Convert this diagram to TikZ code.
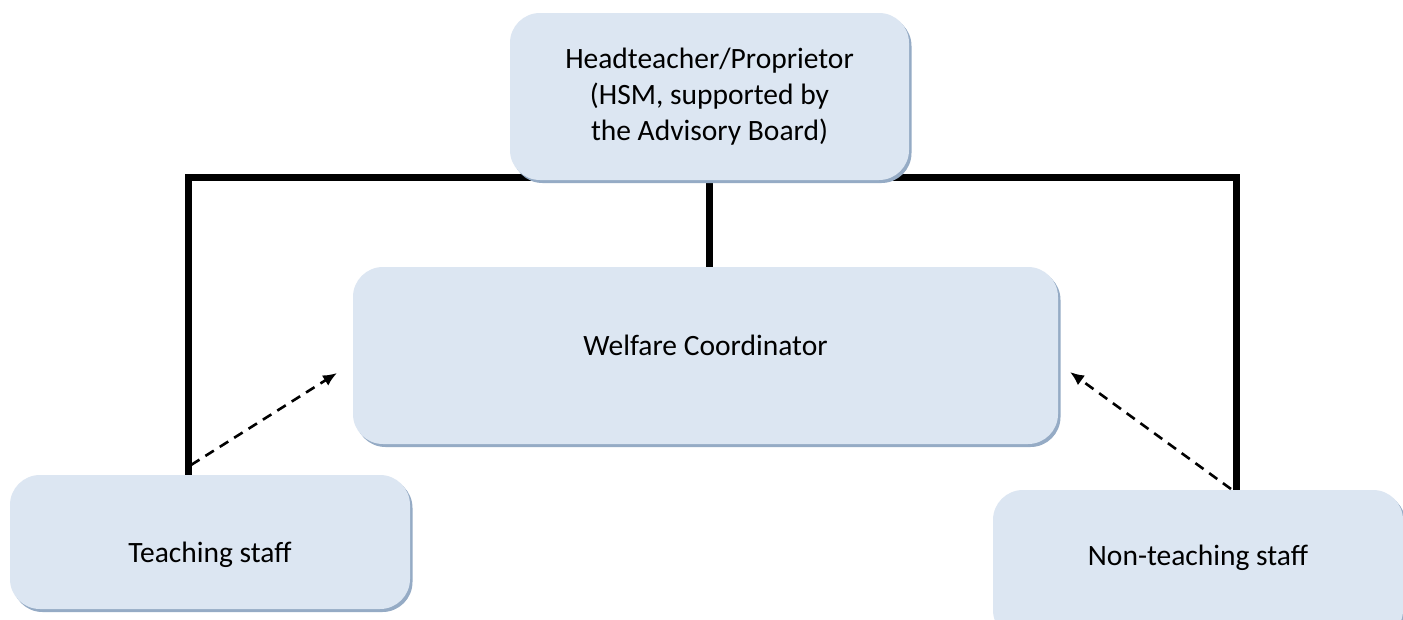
\documentclass[tikz,border=0pt]{standalone}
\usepackage{fontspec}
\setmainfont{Carlito}
\usetikzlibrary{shadows,backgrounds,arrows.meta}
\definecolor{boxfill}{HTML}{DCE6F2}
\definecolor{boxshadow}{HTML}{95ABC5}
\tikzset{
  orgbox/.style={rounded corners=30pt, fill=boxfill, inner sep=0pt, align=center,
    font=\fontsize{29.5}{36}\selectfont,
    drop shadow={shadow xshift=2.5pt, shadow yshift=-3pt, fill=boxshadow, opacity=1}},
  bar/.style={line width=7pt, black},
  dasharrow/.style={line width=2.6pt, dash pattern=on 10pt off 7pt, -{Latex[length=14pt,width=12pt]}}
}
\begin{document}
\begin{tikzpicture}[x=1pt,y=1pt]
\clip (0,0) rectangle (1403,-619);
\node[orgbox, minimum width=399pt, minimum height=167pt] (head) at (709.5,-96.5)
  {Headteacher/Proprietor\\(HSM, supported by\\the Advisory Board)};
\node[orgbox, minimum width=705pt, minimum height=177pt, text height=12pt, text depth=12pt] (welf) at (705.5,-355.5)
  {Welfare Coordinator};
\node[orgbox, minimum width=400pt, minimum height=134pt, text height=40pt, text depth=0pt] (teach) at (210,-542)
  {Teaching staff};
\node[orgbox, minimum width=410pt, minimum height=150pt, text height=12pt, text depth=12pt] (nont) at (1198,-565)
  {Non-teaching staff};
\coordinate (jl) at (188,-177.5);
\coordinate (jr) at (1236.5,-177.5);
\coordinate (tl) at (337,-373);
\coordinate (tr) at (1070,-372);
\coordinate (sl) at (191,-465);
\coordinate (sr) at (1231,-489);
\begin{scope}[on background layer]
\fill[white] (0,0) rectangle (1403,-619);
\draw[bar] (teach.north -| jl) -- (jl) -- (jr) -- (nont.north -| jr);
\draw[bar] (head.south) -- (head.south |- welf.north);
\end{scope}
\draw[dasharrow] (sl) -- (tl);
\draw[dasharrow] (sr) -- (tr);
\end{tikzpicture}
\end{document}
